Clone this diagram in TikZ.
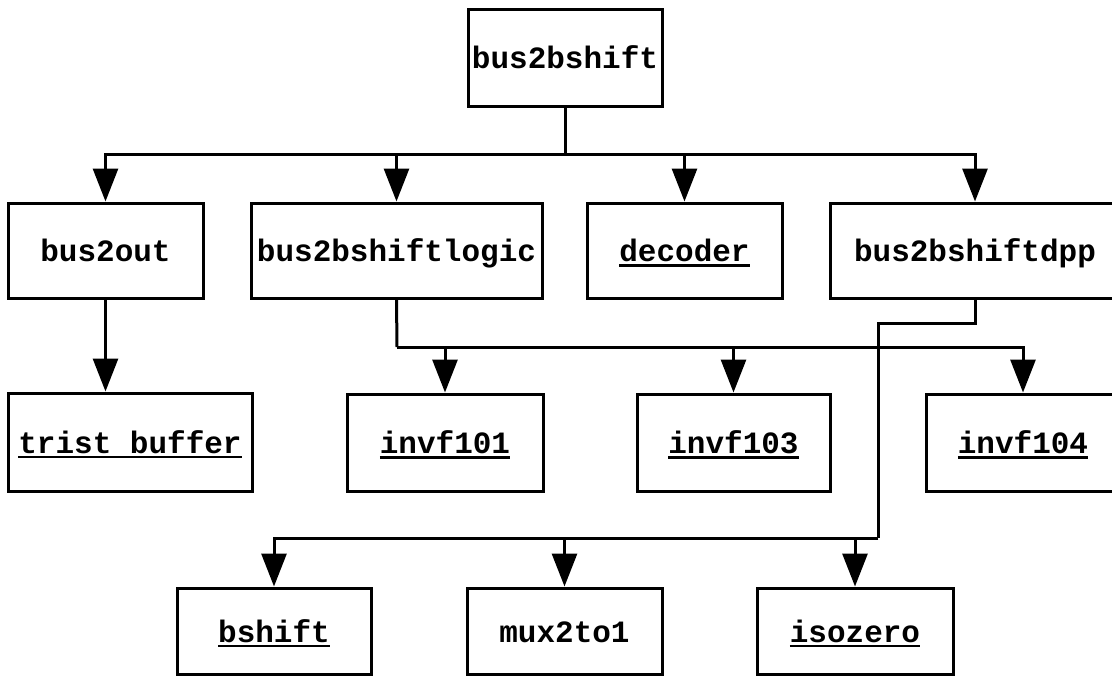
\documentclass[tikz,border=0pt]{standalone}
\usepackage{fontspec}
\newfontfamily\courfont{Liberation Mono}
\usetikzlibrary{arrows.meta}
\newsavebox\ulsave
\newcommand\ulbox[1]{\sbox\ulsave{#1}\rlap{\rule[-5.3pt]{\wd\ulsave}{2.5pt}}\usebox\ulsave}
\tikzset{
  blk/.style={draw, line width=3pt, inner sep=0pt, fill=white,
    font=\courfont\bfseries\fontsize{31}{36}\selectfont,
    text height=27pt, text depth=5pt},
  wire/.style={line width=3pt},
  arr/.style={line width=3pt, -{Triangle[length=33pt,width=25pt]}}
}
\begin{document}
\begin{tikzpicture}[x=1pt,y=-1pt]
\useasboundingbox (0,0) rectangle (1112,683);
\clip (0,0) rectangle (1112,683);
% nodes
\node[blk, minimum width=194pt, minimum height=97pt] (top) at (565,57.5) {bus2bshift};
\node[blk, minimum width=195pt, minimum height=95pt] (bus2out) at (105.5,250.5) {bus2out};
\node[blk, minimum width=291pt, minimum height=95pt] (logic) at (396.5,250.5) {bus2bshiftlogic};
\node[blk, minimum width=195pt, minimum height=95pt] (decoder) at (684.5,250.5) {\ulbox{decoder}};
\node[blk, minimum width=290pt, minimum height=95pt] (dpp) at (975,250.5) {bus2bshiftdpp};
\node[blk, minimum width=244pt, minimum height=98pt] (trist) at (130,442) {\ulbox{trist buffer}};
\node[blk, minimum width=196pt, minimum height=97pt] (invf101) at (445,442.5) {\ulbox{invf101}};
\node[blk, minimum width=193pt, minimum height=97pt] (invf103) at (733.5,442.5) {\ulbox{invf103}};
\node[blk, minimum width=194pt, minimum height=97pt] (invf104) at (1023,442.5) {\ulbox{invf104}};
\node[blk, minimum width=194pt, minimum height=86pt] (bshift) at (274,631) {\ulbox{bshift}};
\node[blk, minimum width=195pt, minimum height=86pt] (mux) at (564.5,631) {mux2to1};
\node[blk, minimum width=196pt, minimum height=86pt] (isozero) at (855,631) {\ulbox{isozero}};
% junctions
\coordinate (j1) at (565,154);
\coordinate (j2) at (397,347);
\coordinate (j3) at (878,323);
\coordinate (j4) at (878,538);
% level 1 -> level 2
\draw[wire] (top.south) -- (j1);
\draw[arr] (j1) -| (bus2out.north);
\draw[arr] (j1) -| (logic.north);
\draw[arr] (j1) -| (decoder.north);
\draw[arr] (j1) -| (dpp.north);
% bus2out -> trist buffer
\draw[arr] (bus2out.south) -- (bus2out.south |- trist.north);
% logic -> invf
\draw[wire] (logic.south) -- (j2);
\draw[arr] (j2) -| (invf101.north);
\draw[arr] (j2) -| (invf103.north);
\draw[arr] (j2) -| (invf104.north);
% dpp -> bottom row
\draw[wire] (dpp.south) |- (j3) -- (j4);
\draw[arr] (j4) -| (bshift.north);
\draw[arr] (j4) -| (mux.north);
\draw[arr] (j4) -| (isozero.north);
\end{tikzpicture}
\end{document}
